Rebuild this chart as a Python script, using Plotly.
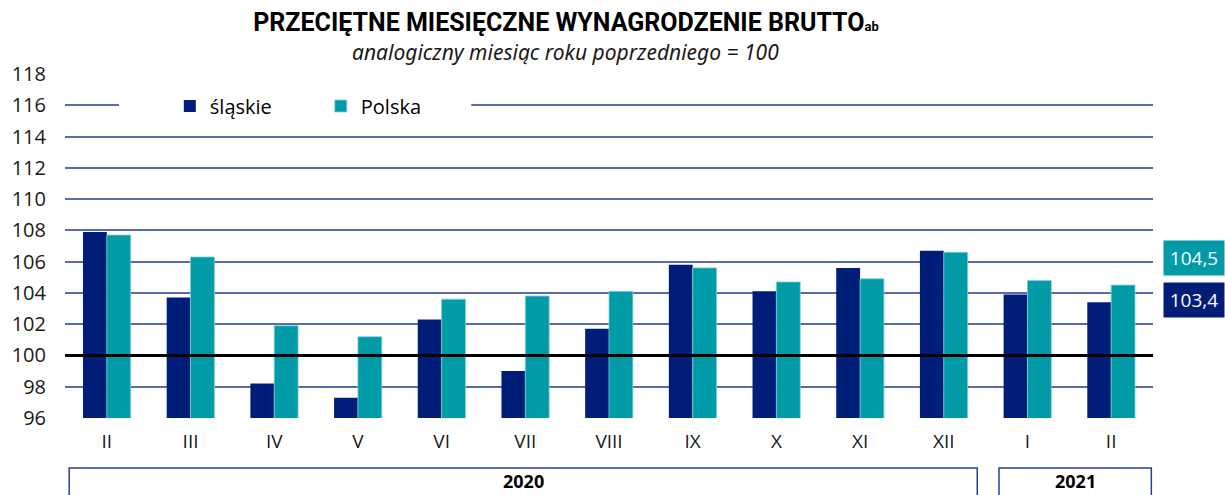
import plotly.graph_objects as go

months = ["II", "III", "IV", "V", "VI", "VII", "VIII", "IX", "X", "XI", "XII", "I", "II"]
slaskie = [107.9, 103.7, 98.2, 97.3, 102.3, 99.0, 101.7, 105.8, 104.1, 105.6, 106.7, 103.9, 103.4]
polska = [107.7, 106.3, 101.9, 101.2, 103.6, 103.8, 104.1, 105.6, 104.7, 104.9, 106.6, 104.8, 104.5]
years = ["2020", "2021"]
year_spans = [(-0.45, 10.4), (10.66, 12.48)]

NAVY = "#001e78"
TEAL = "#009ba7"
GRID = "#5a6aaa"
FONT = "Open Sans"

xs = list(range(len(months)))

fig = go.Figure()
fig.add_trace(go.Bar(x=xs, y=slaskie, name="śląskie", marker=dict(color=NAVY, line=dict(width=0))))
fig.add_trace(go.Bar(x=xs, y=polska, name="Polska", marker=dict(color=TEAL, line=dict(color="#7fd0d6", width=0.8))))

# white strip behind legend
fig.add_shape(type="rect", xref="paper", yref="y", x0=(117 - 63) / 1090, x1=(470 - 63) / 1090,
              y0=115.6, y1=116.4, fillcolor="white", line=dict(width=0), layer="above")
# reference line at 100
fig.add_shape(type="line", xref="paper", yref="y", x0=0, x1=1, y0=100, y1=100,
              line=dict(color="black", width=3), layer="above")

# year boxes
for yr, (a, b) in zip(years, year_spans):
    fig.add_shape(type="rect", xref="x", yref="paper", x0=a, x1=b, y0=-0.145, y1=-0.26,
                  line=dict(color="#2b3d96", width=1.5), fillcolor="rgba(0,0,0,0)")
    fig.add_annotation(x=(a + b) / 2, y=-0.183, xref="x", yref="paper", text=f"<b>{yr}</b>",
                       showarrow=False, font=dict(family=FONT, size=18, color="black"),
                       yanchor="middle")

# right-side value boxes
fig.add_annotation(xref="paper", yref="paper", x=1.0 + (1194 - 1153) / 1090, y=(418 - 258) / 344,
                   text=f"{polska[-1]:.1f}".replace(".", ","), showarrow=False,
                   font=dict(family=FONT, size=19, color="white"), bgcolor=TEAL,
                   width=58, height=32, xanchor="center", yanchor="middle")
fig.add_annotation(xref="paper", yref="paper", x=1.0 + (1194 - 1153) / 1090, y=(418 - 300) / 344,
                   text=f"{slaskie[-1]:.1f}".replace(".", ","), showarrow=False,
                   font=dict(family=FONT, size=19, color="white"), bgcolor=NAVY,
                   width=58, height=32, xanchor="center", yanchor="middle")

# subtitle
fig.add_annotation(xref="paper", yref="paper", x=(564 - 63) / 1090, y=1 + (74 - 52) / 344,
                   text="<i>analogiczny miesiąc roku poprzedniego = 100</i>", showarrow=False,
                   font=dict(family="Noto Sans", size=21, color="#1a1a1a"), yanchor="middle")

fig.update_layout(
    width=1225, height=495,
    margin=dict(l=63, r=72, t=74, b=77),
    paper_bgcolor="white", plot_bgcolor="white",
    barmode="group", bargap=0.43, bargroupgap=0,
    title=dict(text="<b>PRZECIĘTNE MIESIĘCZNE WYNAGRODZENIE BRUTTO<span style='font-size:13px'>ab</span></b>",
               x=566 / 1225, xanchor="center", y=1 - 22 / 495, yanchor="middle",
               font=dict(family="Roboto", size=25, color="black")),
    font=dict(family=FONT, size=18, color="#1a1a1a"),
    legend=dict(orientation="h", x=(168 - 63) / 1090, xanchor="left", y=(418 - 106) / 344,
                yanchor="middle", bgcolor="rgba(0,0,0,0)", font=dict(family=FONT, size=20, color="black"),
                entrywidth=106, traceorder="normal"),
    xaxis=dict(tickmode="array", tickvals=xs, ticktext=months, range=[-0.5, len(months) - 0.5],
               showgrid=False, zeroline=False, showline=False, ticks="",
               tickfont=dict(family=FONT, size=19, color="#1a1a1a"), ticklabelstandoff=10),
    yaxis=dict(range=[96, 118], dtick=2, tick0=96, showgrid=True, gridcolor=GRID, gridwidth=1.5,
               zeroline=False, showline=False, ticks="", ticklabelstandoff=18,
               tickfont=dict(family=FONT, size=20, color="#1a1a1a")),
)

fig.write_html("out.html", post_script="document.body.style.margin='0';",
               config={"displayModeBar": False})
